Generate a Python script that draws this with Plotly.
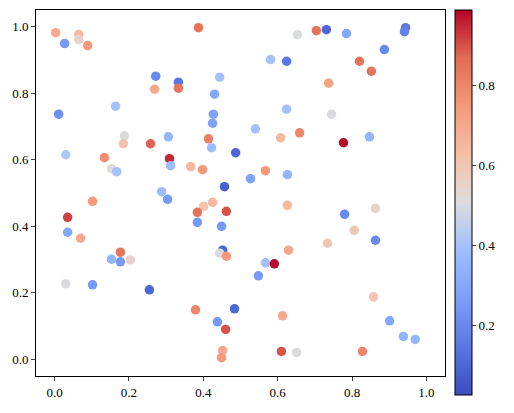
import plotly.graph_objects as go

x = [.003,.027,.065,.065,.089,.387,.272,.269,.333,.333,.444,.430,.011,.164,.427,.425,.188,.185,.306,.258,
     .414,.422,.487,.030,.134,.309,.312,.366,.398,.153,.167,.457,.288,.304,.102,.425,.653,.704,.731,.785,
     .944,.941,.887,.581,.624,.820,.852,.737,.624,.745,.540,.608,.659,.777,.847,.567,.527,.626,.401,.384,
     .462,.035,.384,.449,.035,.070,.452,.444,.462,.177,.153,.177,.204,.030,.102,.255,.379,.484,.438,.460,
     .452,.449,.626,.780,.863,.806,.863,.734,.629,.567,.591,.548,.858,.613,.901,.938,.970,.610,.651,.828]
y = [.982,.949,.976,.961,.943,.997,.851,.812,.833,.815,.848,.797,.737,.761,.737,.710,.672,.648,.669,.648,
     .663,.636,.621,.615,.606,.603,.582,.579,.570,.573,.564,.519,.504,.481,.475,.472,.976,.988,.991,.979,
     .997,.985,.931,.901,.896,.896,.866,.830,.752,.737,.693,.666,.681,.651,.669,.567,.543,.555,.460,.442,
     .445,.427,.412,.400,.382,.364,.328,.319,.310,.322,.301,.293,.299,.227,.224,.209,.149,.152,.113,.090,
     .027,.005,.463,.436,.454,.388,.358,.349,.328,.290,.287,.251,.188,.131,.116,.069,.060,.024,.021,.024]
c = [.70,.25,.65,.55,.75,.85,.20,.70,.15,.85,.40,.30,.22,.40,.28,.28,.50,.62,.35,.88,
     .82,.38,.10,.42,.78,.95,.38,.65,.75,.52,.40,.08,.38,.25,.75,.65,.50,.85,.10,.30,
     .15,.18,.20,.40,.15,.85,.85,.72,.40,.50,.40,.65,.80,.98,.35,.75,.28,.35,.62,.85,
     .90,.92,.25,.25,.30,.70,.10,.50,.75,.85,.35,.25,.55,.50,.25,.10,.80,.10,.25,.90,
     .70,.75,.65,.20,.55,.60,.20,.60,.70,.40,.98,.25,.60,.70,.30,.35,.35,.90,.50,.80]

coolwarm = [[0.0, "#3b4cc0"], [0.125, "#5977e3"], [0.25, "#7b9ff9"], [0.375, "#9ebeff"],
            [0.5, "#dddddd"], [0.625, "#f6bfa6"], [0.75, "#f49a7b"], [0.875, "#e36c55"],
            [1.0, "#b40426"]]
FONT = dict(family="Liberation Serif", size=13, color="black")

fig = go.Figure(go.Scatter(
    x=x, y=y, mode="markers",
    marker=dict(size=9.5, color=c, colorscale=coolwarm, cmin=0.025, cmax=0.99,
                colorbar=dict(x=1.0244, xanchor="left", y=1.0, yanchor="top",
                              len=1.052, lenmode="fraction", xpad=0, ypad=0,
                              thickness=17, outlinewidth=1, outlinecolor="black",
                              tickvals=[0.2, 0.4, 0.6, 0.8], ticks="outside", ticklen=4,
                              tickfont=FONT)),
))
axis = dict(range=[-0.05, 1.05], showgrid=False, zeroline=False, showline=True, mirror=True,
            linecolor="black", linewidth=1, ticks="outside", ticklen=4, automargin=False,
            tickvals=[0, 0.2, 0.4, 0.6, 0.8, 1.0], tickformat=".1f", tickfont=FONT)
fig.update_layout(width=514, height=413, margin=dict(l=28, r=77, t=2, b=45),
                  plot_bgcolor="white", paper_bgcolor="white", showlegend=False,
                  font=FONT, xaxis=axis, yaxis=axis)
fig.write_html("out.html")
